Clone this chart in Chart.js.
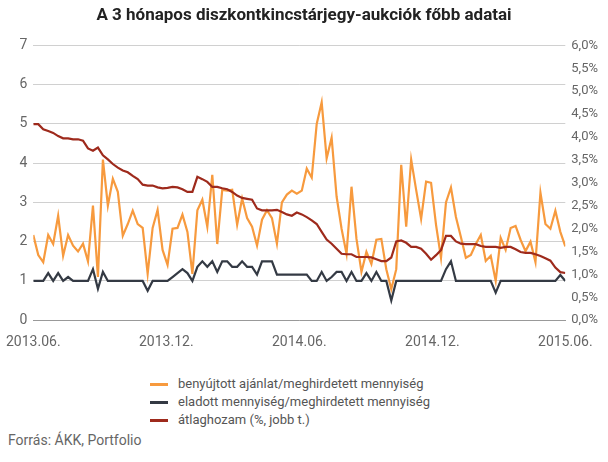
<!DOCTYPE html>
<html><head><meta charset="utf-8">
<script src="https://cdn.jsdelivr.net/npm/chart.js@4"></script>
<style>
body{margin:0;background:#fff;font-family:Roboto,"Noto Sans",sans-serif;}
#wrap{position:absolute;left:0;top:0;width:608px;height:357px;}
#legend{position:absolute;left:150px;top:375px;font-size:13px;color:#555;line-height:18px;}
#legend div{display:flex;align-items:center;}
#legend span{display:inline-block;width:18px;height:3px;margin-right:10px;}
#src{position:absolute;left:8px;top:432px;font-size:14px;color:#666;}
</style></head><body>
<div id="wrap"><canvas id="c"></canvas></div>
<div id="legend">
<div><span style="background:#f79a3e"></span>benyújtott ajánlat/meghirdetett mennyiség</div>
<div><span style="background:#343a44"></span>eladott mennyiség/meghirdetett mennyiség</div>
<div><span style="background:#9e2a1c"></span>átlaghozam (%, jobb t.)</div>
</div>
<div id="src">Forrás: ÁKK, Portfolio</div>
<script>
const tickLabels=["2013.06.","2013.12.","2014.06.","2014.12.","2015.06."];
const bidRatio=[2.17,1.66,1.48,2.17,1.94,2.66,1.64,2.17,1.9,1.75,1.95,1.5,2.92,1.1,4.09,2.92,3.6,3.27,2.15,2.45,2.79,2.45,2.35,1.18,2.35,2.81,1.79,1.41,2.33,2.35,2.69,2.25,1.18,2.8,3.07,2.38,3.7,1.94,3.32,3.3,3.32,2.43,3.1,2.6,2.38,1.9,2.56,2.8,2.6,1.95,3.0,3.2,3.3,
3.22,3.3,3.86,3.63,5.0,5.55,4.12,4.65,3.15,2.33,1.69,3.4,2.07,1.23,1.74,1.43,2.05,2.07,1.3,0.79,1.3,3.96,2.38,4.09,3.32,2.58,3.53,3.5,2.43,1.59,3.0,3.38,2.63,2.12,1.59,1.66,1.94,2.17,1.51,1.64,1.0,2.1,1.79,2.35,2.4,2.05,1.76,2.0,1.48,3.25,2.45,2.33,2.79,2.25,1.88];
const soldRatio=[1,1,1,1.2,1,1.2,1,1.1,1,1,1,1,1.3,0.8,1.23,1,1,1,1,1,1,1,1,0.75,1,1,1,1,1.1,1.2,1.3,1.2,1,1.36,1.5,1.36,1.5,1.23,1.5,1.5,1.36,1.36,1.5,1.36,1.36,1.16,1.5,1.5,1.5,1.16,1.16,1.16,1.16,
1.16,1.16,1.16,1,1,1.23,1,1.1,1.23,1.23,1,1.23,1,1,1.2,1,1.23,1,1,0.5,1,1,1,1,1,1,1,1,1,1,1.3,1.5,1,1,1,1,1,1,1,1,0.7,1,1,1,1,1,1,1,1,1,1,1,1,1.15,1,1];
const avgYield=[4.28,4.28,4.17,4.13,4.09,4.02,3.97,3.97,3.95,3.95,3.92,3.75,3.7,3.77,3.6,3.51,3.41,3.33,3.27,3.23,3.15,3.08,2.96,2.94,2.94,2.9,2.88,2.89,2.91,2.9,2.86,2.8,2.8,3.13,3.08,3.02,2.91,2.91,2.88,2.86,2.8,2.72,2.67,2.65,2.63,2.44,2.4,2.4,2.4,2.41,2.36,2.31,2.28,
2.35,2.31,2.25,2.18,2.1,1.93,1.76,1.67,1.56,1.45,1.44,1.44,1.38,1.38,1.38,1.37,1.33,1.29,1.29,1.37,1.72,1.74,1.69,1.6,1.6,1.56,1.45,1.32,1.42,1.53,1.84,1.84,1.72,1.67,1.66,1.66,1.66,1.62,1.6,1.6,1.6,1.58,1.6,1.6,1.55,1.49,1.47,1.47,1.44,1.4,1.35,1.3,1.15,1.05,1.03];
const n=bidRatio.length, last=n-1;
const pts=a=>a.map((v,i)=>({x:i,y:v}));
const ds=(d,c,ax)=>({data:pts(d),borderColor:c,borderWidth:2.2,pointRadius:0,tension:0,yAxisID:ax});
new Chart(document.getElementById('c'),{type:'line',
data:{datasets:[ds(soldRatio,'#343a44','y'),ds(avgYield,'#9e2a1c','y2'),ds(bidRatio,'#f79a3e','y')]},
options:{responsive:true,maintainAspectRatio:false,animation:false,
layout:{padding:{left:4,right:4,top:0,bottom:0}},
plugins:{legend:{display:false},tooltip:{enabled:false},
title:{display:true,text:'A 3 hónapos diszkontkincstárjegy-aukciók főbb adatai',color:'#222',font:{family:'Roboto',size:17,weight:'bold'},padding:{top:6,bottom:19}}},
scales:{
x:{type:'linear',min:0,max:last,
afterBuildTicks:s=>{s.ticks=tickLabels.map((t,i)=>({value:i*last/4}));},
ticks:{callback:(v,i)=>tickLabels[i],color:'#666',font:{family:'Roboto',size:14},maxRotation:0,autoSkip:false,padding:6},
grid:{display:false},border:{color:'#999'}},
y:{min:0,max:7,ticks:{stepSize:1,color:'#666',font:{family:'Roboto',size:14},padding:6},grid:{color:'#d0d0d0',drawTicks:false},border:{display:false}},
y2:{position:'right',min:0,max:6,ticks:{stepSize:0.5,color:'#666',font:{family:'Roboto',size:13},padding:6,callback:v=>v.toFixed(1).replace('.',',')+'%'},grid:{display:false,drawTicks:false},border:{display:false}}
}}});
</script></body></html>
